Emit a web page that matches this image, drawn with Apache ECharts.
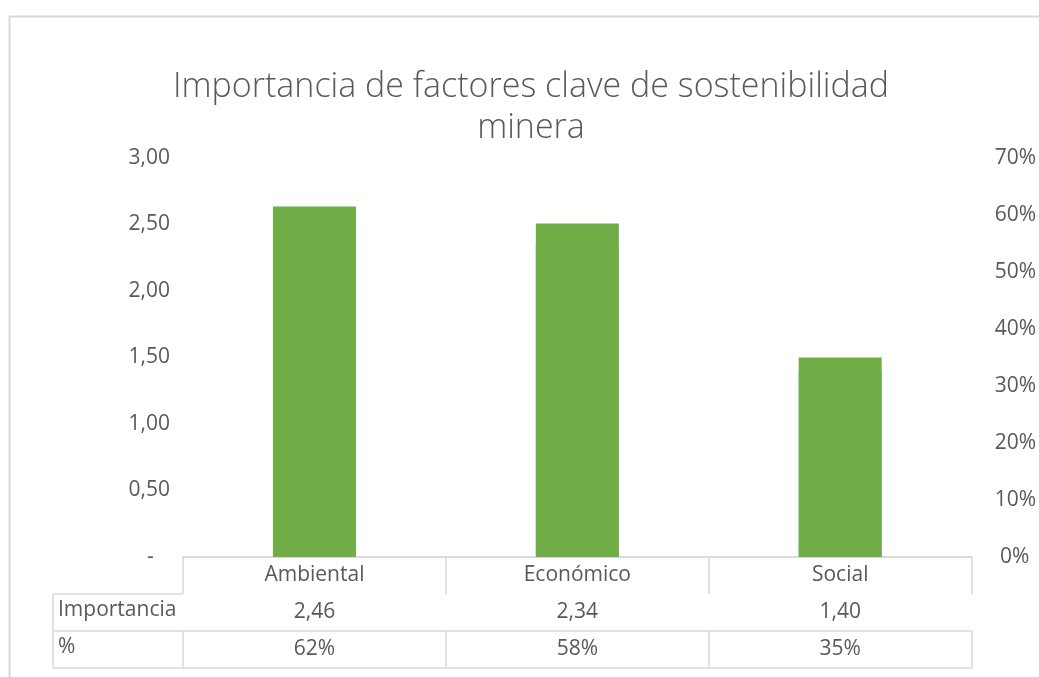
<!DOCTYPE html>
<html>
<head>
<meta charset="utf-8">
<script src="https://cdn.jsdelivr.net/npm/echarts@6/dist/echarts.min.js"></script>
<style>
  html, body { margin: 0; padding: 0; background: #fff; }
  #chart { width: 1039px; height: 677px; }
</style>
</head>
<body>
<div id="chart"></div>
<script>
// datos del grafico
var categorias = ['Ambiental', 'Económico', 'Social'];
var importancia = [2.46, 2.34, 1.40];
var porcentaje = [0.615, 0.585, 0.35];
// textos de la tabla de datos (formato Excel)
var importanciaTxt = ['2,46', '2,34', '1,40'];
var porcentajeTxt = ['62%', '58%', '35%'];
var filas = ['Importancia', '%'];

var gris = '#D9D9D9';
var texto = '#595959';
var fuente = '"Open Sans", sans-serif';

var chart = echarts.init(document.getElementById('chart'));

function tablaEje(data, offset, showLabel) {
  return {
    type: 'category',
    data: data,
    position: 'bottom',
    offset: offset,
    axisLine: { show: true, lineStyle: { color: gris, width: 1.5 } },
    axisTick: { show: showLabel, interval: 0, length: 37, lineStyle: { color: gris, width: 1.5 } },
    axisLabel: {
      show: showLabel, interval: 0, margin: 8,
      color: texto, fontSize: 21, fontFamily: fuente
    },
    splitLine: { show: false }
  };
}

chart.setOption({
  backgroundColor: '#fff',
  animation: false,
  title: {
    text: 'Importancia de factores clave de sostenibilidad\nminera',
    left: 526,
    textAlign: 'center',
    top: 62,
    textStyle: {
      color: texto, fontSize: 34, fontWeight: 300,
      fontFamily: fuente, lineHeight: 41
    }
  },
  grid: { left: 183, right: 66, top: 158, bottom: 120 },
  xAxis: [
    tablaEje(categorias, 0, true),
    tablaEje(importanciaTxt, 37, true),
    tablaEje(porcentajeTxt, 74, true),
    tablaEje(categorias, 111, false)
  ],
  yAxis: [
    {
      type: 'value', min: 0, max: 3, interval: 0.5,
      axisLine: { show: false }, axisTick: { show: false },
      splitLine: { show: false },
      axisLabel: {
        color: texto, fontSize: 21, fontFamily: fuente, margin: 13,
        formatter: function (v) { return v === 0 ? '-   ' : v.toFixed(2).replace('.', ','); }
      }
    },
    {
      type: 'value', min: 0, max: 0.7, interval: 0.1, position: 'right',
      axisLine: { show: false }, axisTick: { show: false },
      splitLine: { show: false },
      axisLabel: {
        color: texto, fontSize: 21, fontFamily: fuente, margin: 23,
        formatter: function (v) { return v === 0 ? ' 0%' : Math.round(v * 100) + '%'; }
      }
    }
  ],
  series: [
    {
      name: 'Importancia', type: 'bar', yAxisIndex: 0,
      barWidth: 83, barGap: '-100%',
      itemStyle: { color: '#8FAADC' },
      data: importancia
    },
    {
      name: '%', type: 'bar', yAxisIndex: 1,
      barWidth: 83, barGap: '-100%',
      itemStyle: { color: '#70AD47' },
      data: porcentaje
    }
  ],
  graphic: [
    // borde del area del grafico
    { type: 'rect', left: 7, top: 14, shape: { width: 1100, height: 700 },
      style: { fill: null, stroke: gris, lineWidth: 2 }, silent: true },
    // columna de encabezados de la tabla
    { type: 'line', shape: { x1: 53, y1: 594, x2: 183, y2: 594 }, style: { stroke: gris, lineWidth: 1.5 } },
    { type: 'line', shape: { x1: 53, y1: 631, x2: 183, y2: 631 }, style: { stroke: gris, lineWidth: 1.5 } },
    { type: 'line', shape: { x1: 53, y1: 668, x2: 183, y2: 668 }, style: { stroke: gris, lineWidth: 1.5 } },
    { type: 'line', shape: { x1: 53, y1: 594, x2: 53, y2: 668 }, style: { stroke: gris, lineWidth: 1.5 } },
    { type: 'text', left: 58, top: 600, style: { text: filas[0], fill: texto, font: '21px ' + fuente } },
    { type: 'text', left: 58, top: 637, style: { text: filas[1], fill: texto, font: '21px ' + fuente } }
  ]
});

window.addEventListener('resize', function () { chart.resize(); });
</script>
</body>
</html>
